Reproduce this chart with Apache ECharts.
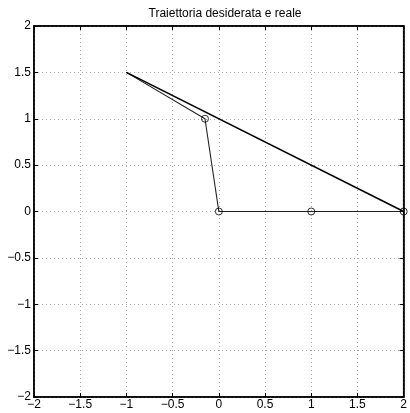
<!DOCTYPE html>
<html>
<head>
<meta charset="utf-8">
<script src="https://cdn.jsdelivr.net/npm/echarts@6/dist/echarts.min.js"></script>
<style>
html,body{margin:0;padding:0;background:#fff;}
#chart{width:410px;height:413px;}
</style>
</head>
<body>
<div id="chart"></div>
<script>
// Desired trajectory: straight segment
const desiredX = [-1, 2];
const desiredY = [1.5, 0];
// Actual trajectory: waypoints reached
const realX = [-1, -0.15, 0, 1, 2];
const realY = [1.5, 1.0, 0, 0, 0];
// Points marked with circles (index into real path)
const markedIdx = [1, 2, 3, 4];

const axisMin = -2, axisMax = 2, axisStep = 0.5;

const fmt = v => (v < 0 ? '\u2212' + Math.abs(v) : String(v));

const chart = echarts.init(document.getElementById('chart'));
const font = 'Liberation Sans, Arial, sans-serif';

const axisCommon = {
  min: axisMin, max: axisMax, interval: axisStep,
  axisLine: {show: true, onZero: false, lineStyle: {color: '#000', width: 1.5}},
  axisTick: {show: true, inside: true, length: 4, lineStyle: {color: '#000'}},
  splitLine: {show: true, lineStyle: {color: '#aaa', type: [1, 3], width: 1}},
  axisLabel: {color: '#000', fontFamily: font, fontSize: 12, formatter: fmt}
};

chart.setOption({
  animation: false,
  backgroundColor: '#fff',
  title: {
    text: 'Traiettoria desiderata e reale',
    left: 220, top: 3, textAlign: 'center',
    textStyle: {fontFamily: font, fontSize: 12, fontWeight: 'normal', color: '#000'}
  },
  grid: {left: 34, right: 4, top: 26, bottom: 16, show: true, borderColor: '#000', borderWidth: 1.5},
  xAxis: [
    Object.assign({type: 'value', position: 'bottom'}, axisCommon,
      {axisLabel: Object.assign({}, axisCommon.axisLabel, {margin: 2})}),
    Object.assign({type: 'value', position: 'top'}, axisCommon,
      {axisLabel: {show: false}, splitLine: {show: false}})
  ],
  yAxis: [
    Object.assign({type: 'value', position: 'left'}, axisCommon,
      {axisLabel: Object.assign({}, axisCommon.axisLabel, {margin: 3})}),
    Object.assign({type: 'value', position: 'right'}, axisCommon,
      {axisLabel: {show: false}, splitLine: {show: false}})
  ],
  series: [
    {
      type: 'line',
      data: realX.map((x, i) => [x, realY[i]]),
      showSymbol: false,
      lineStyle: {color: '#222', width: 1.1},
      z: 3
    },
    {
      type: 'scatter',
      data: markedIdx.map(i => [realX[i], realY[i]]),
      symbol: 'circle', symbolSize: 7,
      itemStyle: {color: 'rgba(255,255,255,0)', borderColor: '#000', borderWidth: 1},
      z: 4
    },
    {
      type: 'line',
      data: desiredX.map((x, i) => [x, desiredY[i]]),
      showSymbol: false,
      lineStyle: {color: '#000', width: 1.6},
      z: 5
    }
  ]
});
</script>
</body>
</html>
